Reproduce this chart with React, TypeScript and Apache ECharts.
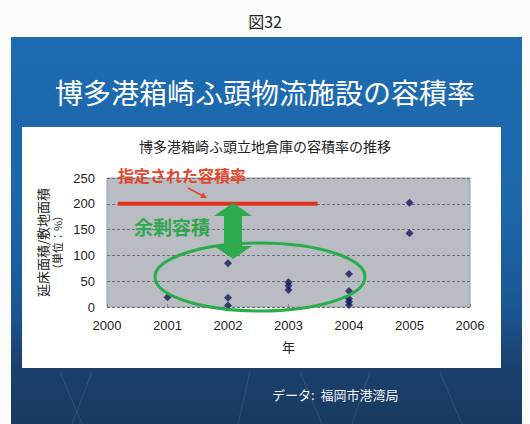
import React, { useEffect, useRef } from "react";
import * as echarts from "echarts";

// ---- data ----
const xTicks = [2000, 2001, 2002, 2003, 2004, 2005, 2006];
const yTicks = [0, 50, 100, 150, 200, 250];
const pointYears = [2001, 2002, 2002, 2002, 2003, 2003, 2003, 2004, 2004, 2004, 2004, 2004, 2005, 2005];
const pointRatios = [19, 85, 18, 3, 48, 41, 33, 64, 31, 16, 10, 4, 202, 143];
const designatedRatio = 200;
const designatedSpan = [2000.18, 2003.48];

const figureLabel = "図32";
const slideTitle = "博多港箱崎ふ頭物流施設の容積率";
const chartTitle = "博多港箱崎ふ頭立地倉庫の容積率の推移";
const yName1 = "延床面積/敷地面積";
const yName2 = "（単位：%）";
const xName = "年";
const designatedLabel = "指定された容積率";
const surplusLabel = "余剰容積";
const sourceLabel = "データ:  福岡市港湾局";

const JP = "'Noto Sans CJK JP', 'Noto Sans', sans-serif";
const NUM = "'Liberation Sans', Arial, 'Noto Sans CJK JP', sans-serif";

export default function App() {
  const ref = useRef<HTMLDivElement>(null);

  useEffect(() => {
    if (!ref.current) return;
    const chart = echarts.init(ref.current, undefined, { renderer: "svg" });
    const scatterData = pointYears.map((y, i) => [y, pointRatios[i]]);
    const lineData = designatedSpan.map((x) => [x, designatedRatio]);

    const faintLines = [
      [60, 372, 82, 424],
      [92, 372, 72, 424],
      [250, 372, 238, 424],
      [300, 372, 322, 424],
      [370, 372, 352, 424],
      [440, 372, 462, 424],
    ].map(([x1, y1, x2, y2]) => ({
      type: "line",
      shape: { x1, y1, x2, y2 },
      style: { stroke: "rgba(120,170,225,0.2)", lineWidth: 1 },
      silent: true,
    }));

    chart.setOption({
      animation: false,
      backgroundColor: "transparent",
      title: [
        {
          text: figureLabel,
          left: "center",
          top: 8,
          textStyle: { fontFamily: JP, fontSize: 16, fontWeight: "normal", color: "#222" },
        },
        {
          text: slideTitle,
          left: "center",
          top: 73,
          textStyle: { fontFamily: JP, fontSize: 28, fontWeight: "normal", color: "#ffffff" },
        },
        {
          text: chartTitle,
          left: 134,
          top: 134,
          textStyle: { fontFamily: JP, fontSize: 14, fontWeight: "normal", color: "#222" },
        },
      ],
      grid: {
        left: 107,
        right: 60,
        top: 178,
        bottom: 117,
        show: true,
        backgroundColor: "#b9bcc3",
        borderColor: "#9a9da3",
        borderWidth: 1,
      },
      xAxis: {
        type: "value",
        min: xTicks[0],
        max: xTicks[xTicks.length - 1],
        interval: 1,
        name: xName,
        nameLocation: "middle",
        nameGap: 33,
        nameTextStyle: { fontFamily: JP, fontSize: 13, color: "#222" },
        axisLine: { show: false },
        axisTick: { show: true, inside: true, length: 3, lineStyle: { color: "#888" } },
        splitLine: { show: false },
        axisLabel: {
          fontFamily: NUM,
          fontSize: 13,
          color: "#222",
          margin: 12,
          formatter: (v: number) => String(v),
        },
      },
      yAxis: {
        type: "value",
        min: yTicks[0],
        max: yTicks[yTicks.length - 1],
        interval: 50,
        name: "{a|" + yName1 + "}\n{b|" + yName2 + "}",
        nameLocation: "middle",
        nameGap: 33,
        nameRotate: 90,
        nameTextStyle: {
          rich: {
            a: { fontFamily: JP, fontSize: 13, color: "#222", lineHeight: 15, align: "center" },
            b: { fontFamily: JP, fontSize: 11, color: "#222", lineHeight: 14, align: "center" },
          },
        },
        axisLine: { show: false },
        axisTick: { show: false },
        axisLabel: { fontFamily: NUM, fontSize: 13, color: "#222", margin: 12 },
        splitLine: { show: true, lineStyle: { color: "#6f7279", type: [3, 2], width: 1 } },
      },
      series: [
        {
          type: "line",
          data: lineData,
          symbol: "none",
          lineStyle: { color: "#e2321f", width: 4 },
          z: 3,
        },
        {
          type: "scatter",
          data: scatterData,
          symbol: "diamond",
          symbolSize: 8,
          itemStyle: { color: "#131b5c" },
          z: 4,
        },
      ],
      graphic: [
        ...faintLines,
        {
          type: "text",
          left: 118,
          top: 167,
          z: 100,
          style: {
            text: designatedLabel,
            fontFamily: JP,
            fontSize: 16,
            fontWeight: "bold",
            fill: "#e2472b",
          },
        },
        {
          type: "line",
          z: 100,
          shape: { x1: 188, y1: 188, x2: 203, y2: 196 },
          style: { stroke: "#e2472b", lineWidth: 1.5 },
        },
        {
          type: "polygon",
          z: 100,
          shape: { points: [[207, 198], [200.3, 197.9], [203.1, 192.5]] },
          style: { fill: "#e2472b" },
        },
        {
          type: "text",
          left: 134,
          top: 217,
          z: 100,
          style: {
            text: surplusLabel,
            fontFamily: JP,
            fontSize: 19,
            fontWeight: "bold",
            fill: "#2fa84f",
          },
        },
        {
          type: "ellipse",
          z: 99,
          shape: { cx: 260, cy: 277, rx: 105, ry: 34 },
          style: { fill: "none", stroke: "#27ad4a", lineWidth: 3 },
        },
        {
          type: "polygon",
          z: 101,
          shape: {
            points: [
              [233, 203], [252, 216], [242, 216], [242, 246], [252, 246],
              [233, 259], [214, 246], [224, 246], [224, 216], [214, 216],
            ],
          },
          style: { fill: "#2eab4c" },
        },
        {
          type: "text",
          left: 272,
          top: 388,
          z: 100,
          style: {
            text: sourceLabel,
            fontFamily: JP,
            fontSize: 13,
            fill: "#f2f4f8",
          },
        },
      ],
    });
    return () => chart.dispose();
  }, []);

  return (
    <div style={{ position: "absolute", left: 0, top: 0, width: 530, height: 424, background: "#fcfcfc", overflow: "hidden" }}>
      <div
        style={{
          position: "absolute",
          left: 11,
          top: 37,
          width: 511,
          height: 387,
          background: "linear-gradient(to bottom, #1e6bb1 0%, #1d66aa 45%, #1b5793 70%, #1a416c 85%, #193a62 100%)",
        }}
      />
      <div style={{ position: "absolute", left: 22, top: 127, width: 479, height: 241, background: "#ffffff" }} />
      <div ref={ref} style={{ position: "absolute", left: 0, top: 0, width: 530, height: 424 }} />
    </div>
  );
}
